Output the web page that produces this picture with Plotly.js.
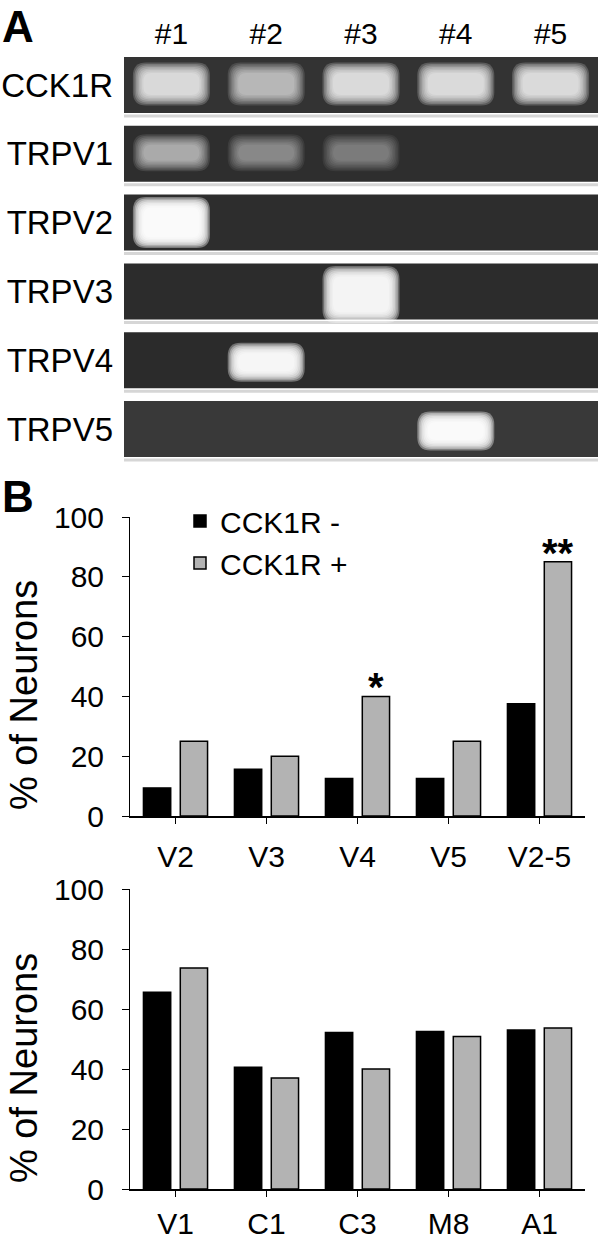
<!DOCTYPE html>
<html><head><meta charset="utf-8">
<script src="https://cdn.plot.ly/plotly-3.0.1.min.js"></script>
<style>html,body{margin:0;padding:0;background:#fff}#chart{width:600px;height:1241px}</style>
</head><body><div id="chart"></div>
<script>
// ---------- DATA ----------
const lanes = ['#1', '#2', '#3', '#4', '#5'];
const genes = ['CCK1R', 'TRPV1', 'TRPV2', 'TRPV3', 'TRPV4', 'TRPV5'];
// band brightness read from the gel (0 = no band, 1 = saturated)
const bandCCK1R = [0.85, 0.72, 0.86, 0.86, 0.86];
const bandTRPV1 = [0.68, 0.55, 0.50, 0, 0];
const bandTRPV2 = [0.98, 0, 0, 0, 0];
const bandTRPV3 = [0, 0, 0.96, 0, 0];
const bandTRPV4 = [0, 0.97, 0, 0, 0];
const bandTRPV5 = [0, 0, 0, 0.98, 0];

const seriesNames = ['CCK1R -', 'CCK1R +'];
const groupsTop = ['V2', 'V3', 'V4', 'V5', 'V2-5'];
const negTop = [9.4, 15.6, 12.5, 12.5, 37.5];
const posTop = [25, 20, 40, 25, 85];
const sigTop = ['', '', '*', '', '**'];
const groupsBottom = ['V1', 'C1', 'C3', 'M8', 'A1'];
const negBottom = [65.6, 40.6, 52.2, 52.5, 53.0];
const posBottom = [73.7, 37.0, 40.0, 50.8, 53.7];
const yTicks = [0, 20, 40, 60, 80, 100];
const yTitle = '% of Neurons';

// ---------- STYLE ----------
const W = 600, H = 1241;
const px = x => x / W;
const py = y => 1 - y / H;
const FONT = 'Liberation Sans, Arial, Helvetica, sans-serif';
const BLACK = '#000000', GRAY = '#b3b3b3';
const BARGAP = 0.19, BARGROUPGAP = 0.26;

const gelX = [124, 598], gelY = [50.6, 463.4];
const lanePx = (gelX[1] - gelX[0]) / lanes.length;
const rowPx = (gelY[1] - gelY[0]) / genes.length;
const panelHalf = 28 / rowPx;
const rowShade = ['#333333', '#2e2e2e', '#2d2d2d', '#2c2c2c', '#2b2b2b', '#393939'];
const bandHeightPx = [30, 24, 38, 44, 26, 26];
const bandShiftPx = [-1, -1, 0, 3, 2, 2];
const bandWidthPx = 64;
const bandRows = [bandCCK1R, bandTRPV1, bandTRPV2, bandTRPV3, bandTRPV4, bandTRPV5];

// ---------- GEL SHAPES ----------
const shapes = [];
function rr(cx, cy, hw, hh, rx, ry) {
  const L = cx - hw, R = cx + hw, T = cy - hh, B = cy + hh;
  return `M${L + rx},${T} L${R - rx},${T} Q${R},${T} ${R},${T + ry} L${R},${B - ry} Q${R},${B} ${R - rx},${B} ` +
         `L${L + rx},${B} Q${L},${B} ${L},${B - ry} L${L},${T + ry} Q${L},${T} ${L + rx},${T} Z`;
}
genes.forEach((g, r) => {
  const yc = r + 1;
  shapes.push({type: 'rect', xref: 'x3', yref: 'y3', x0: 0.5, x1: 0.5 + lanes.length,
    y0: yc - panelHalf, y1: yc + panelHalf, fillcolor: rowShade[r], line: {width: 0}, layer: 'below'});
  shapes.push({type: 'line', xref: 'x3', yref: 'y3', x0: 0.5, x1: 0.5 + lanes.length,
    y0: yc + panelHalf + 3 / rowPx, y1: yc + panelHalf + 3 / rowPx, line: {color: '#d6d6d6', width: 3}});
  const bg = 0.18, LAYERS = 8, STEP = 1.5;
  bandRows[r].forEach((I, l) => {
    if (!I) return;
    const A = Math.max(0, (I - bg) / (1 - bg));
    const a = 1 - Math.pow(1 - A, 1 / LAYERS);
    for (let k = 0; k < LAYERS; k++) {
      const grow = (LAYERS - 1 - k) * STEP - 4;
      const hw = (bandWidthPx / 2 + grow) / lanePx;
      const hh = (bandHeightPx[r] / 2 + grow) / rowPx;
      const rad = 10 + grow * 0.5;
      shapes.push({type: 'path', xref: 'x3', yref: 'y3',
        path: rr(l + 1, yc + bandShiftPx[r] / rowPx, hw, hh, rad / lanePx, rad / rowPx),
        fillcolor: `rgba(255,255,255,${a.toFixed(3)})`, line: {width: 0}});
    }
  });
});

// ---------- TRACES ----------
const traces = [
  {type: 'bar', x: groupsTop, y: negTop, name: seriesNames[0], xaxis: 'x', yaxis: 'y',
   marker: {color: BLACK, line: {color: BLACK, width: 1.5}}, hoverinfo: 'skip'},
  {type: 'bar', x: groupsTop, y: posTop, name: seriesNames[1], xaxis: 'x', yaxis: 'y',
   marker: {color: GRAY, line: {color: BLACK, width: 1.5}}, hoverinfo: 'skip'},
  {type: 'bar', x: groupsBottom, y: negBottom, name: seriesNames[0], xaxis: 'x2', yaxis: 'y2', showlegend: false,
   marker: {color: BLACK, line: {color: BLACK, width: 1.5}}, hoverinfo: 'skip'},
  {type: 'bar', x: groupsBottom, y: posBottom, name: seriesNames[1], xaxis: 'x2', yaxis: 'y2', showlegend: false,
   marker: {color: GRAY, line: {color: BLACK, width: 1.5}}, hoverinfo: 'skip'}
];

// ---------- AXES ----------
const tickFont = {family: FONT, size: 30, color: BLACK};
function xCat(dom, standoff) {
  return {domain: dom, type: 'category', showline: true, linecolor: BLACK, linewidth: 2,
    ticks: 'outside', ticklen: 6, tickwidth: 1, tickcolor: BLACK, tickfont: tickFont,
    ticklabelstandoff: standoff, showgrid: false, zeroline: false, fixedrange: true};
}
function yVal(dom, anchor) {
  return {domain: dom, range: [0, 100], tickvals: yTicks, showline: true, linecolor: BLACK, linewidth: 1,
    ticks: 'outside', ticklen: 7, tickwidth: 1, tickcolor: BLACK, tickfont: tickFont,
    ticklabelstandoff: 12, showgrid: false, zeroline: false, fixedrange: true, anchor: anchor};
}

const annotations = [
  {text: '<b>A</b>', xref: 'paper', yref: 'paper', x: px(0), y: py(0), xanchor: 'left', yanchor: 'top',
   showarrow: false, font: {family: FONT, size: 44, color: BLACK}},
  {text: '<b>B</b>', xref: 'paper', yref: 'paper', x: px(0), y: py(470), xanchor: 'left', yanchor: 'top',
   showarrow: false, font: {family: FONT, size: 44, color: BLACK}},
  {text: yTitle, xref: 'paper', yref: 'paper', x: px(24), y: py(695), textangle: -90,
   xanchor: 'center', yanchor: 'middle', showarrow: false, font: {family: FONT, size: 38, color: BLACK}},
  {text: yTitle, xref: 'paper', yref: 'paper', x: px(24), y: py(1068), textangle: -90,
   xanchor: 'center', yanchor: 'middle', showarrow: false, font: {family: FONT, size: 38, color: BLACK}}
];
const offset = (1 - BARGAP) / 4;
sigTop.forEach((s, i) => {
  if (!s) return;
  annotations.push({text: '<b>' + s + '</b>', xref: 'x', yref: 'y', x: i + offset, y: posTop[i],
    xanchor: 'center', yanchor: 'bottom', showarrow: false, yshift: -15,
    font: {family: FONT, size: 40, color: BLACK}});
});

const layout = {
  width: W, height: H, margin: {l: 0, r: 0, t: 0, b: 0},
  paper_bgcolor: '#ffffff', plot_bgcolor: 'rgba(0,0,0,0)',
  font: {family: FONT, color: BLACK},
  barmode: 'group', bargap: BARGAP, bargroupgap: BARGROUPGAP,
  showlegend: true,
  legend: {x: px(180), y: py(495), xanchor: 'left', yanchor: 'top', bgcolor: 'rgba(0,0,0,0)',
    font: {family: FONT, size: 30, color: BLACK}, tracegroupgap: 0, borderwidth: 0},
  xaxis: Object.assign(xCat([px(130), px(585)], 7), {anchor: 'y'}),
  yaxis: yVal([py(816), py(517)], 'x'),
  xaxis2: Object.assign(xCat([px(130), px(585)], 1), {anchor: 'y2'}),
  yaxis2: yVal([py(1189), py(889)], 'x2'),
  xaxis3: {domain: [px(gelX[0]), px(gelX[1])], anchor: 'y3', range: [0.5, 0.5 + lanes.length], side: 'top',
    tickvals: lanes.map((_, i) => i + 1), ticktext: lanes, ticks: '', showline: false, showgrid: false,
    zeroline: false, tickfont: {family: FONT, size: 30, color: BLACK}, fixedrange: true},
  yaxis3: {domain: [py(gelY[1]), py(gelY[0])], anchor: 'x3', range: [genes.length + 0.5, 0.5],
    tickvals: genes.map((_, i) => i + 1), ticktext: genes, ticks: '', showline: false, showgrid: false,
    zeroline: false, tickfont: {family: FONT, size: 33, color: BLACK}, ticklabelstandoff: 10, fixedrange: true},
  shapes: shapes,
  annotations: annotations
};

Plotly.newPlot('chart', traces, layout, {staticPlot: true, displayModeBar: false});
</script></body></html>
